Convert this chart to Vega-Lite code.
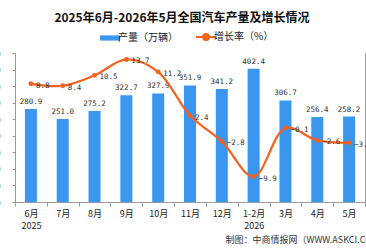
{
  "$schema": "https://vega.github.io/schema/vega-lite/v6.json",
  "width": 350,
  "height": 149,
  "autosize": {"type": "none"},
  "padding": {"left": 15, "top": 53, "right": 1, "bottom": 46},
  "background": "white",
  "title": {
    "text": "2025年6月-2026年5月全国汽车产量及增长情况",
    "font": "Noto Sans CJK SC",
    "fontSize": 12,
    "fontWeight": "bold",
    "color": "#111",
    "anchor": "middle",
    "dx": -8,
    "offset": 7
  },
  "data": {
    "values": [
      {"m": "6月|2025", "v": 280.9, "g": 8.8},
      {"m": "7月", "v": 251.0, "g": 8.4},
      {"m": "8月", "v": 275.2, "g": 10.5},
      {"m": "9月", "v": 322.7, "g": 13.7},
      {"m": "10月", "v": 327.9, "g": 11.2},
      {"m": "11月", "v": 351.9, "g": 2.4},
      {"m": "12月", "v": 341.2, "g": -2.8},
      {"m": "1-2月|2026", "v": 402.4, "g": -9.9},
      {"m": "3月", "v": 306.7, "g": -0.1},
      {"m": "4月", "v": 256.4, "g": -2.6},
      {"m": "5月", "v": 258.2, "g": -3.1}
    ]
  },
  "encoding": {
    "x": {
      "field": "m",
      "type": "nominal",
      "sort": null,
      "scale": {"paddingInner": 0, "paddingOuter": 0},
      "axis": {
        "labelExpr": "split(datum.label, '|')",
        "labelAngle": 0,
        "labelFont": "Noto Sans CJK SC",
        "labelFontSize": 9,
        "labelColor": "#222",
        "labelLineHeight": 12,
        "labelPadding": 3,
        "tickBand": "extent",
        "tickSize": 4,
        "tickColor": "#999",
        "domainColor": "#999",
        "grid": false,
        "title": "制图：中商情报网（WWW.ASKCI.COM）",
        "titleFont": "Noto Sans CJK SC",
        "titleFontSize": 9,
        "titleFontWeight": "normal",
        "titleColor": "#333",
        "titleAlign": "left",
        "titleBaseline": "middle",
        "titleX": 210,
        "titleY": 37
      }
    }
  },
  "layer": [
    {
      "encoding": {
        "y": {
          "field": "v",
          "type": "quantitative",
          "scale": {"domain": [0, 450]},
          "axis": {
            "values": [0, 50, 100, 150, 200, 250, 300, 350, 400, 450],
            "grid": false,
            "title": null,
            "tickSize": 3,
            "labelPadding": 12,
            "labelFontSize": 9,
            "labelColor": "#333",
            "tickColor": "#999",
            "domainColor": "#999"
          }
        }
      },
      "layer": [
        {
          "mark": {"type": "bar", "size": 12},
          "encoding": {
            "color": {
              "datum": "产量（万辆）",
              "scale": {
                "domain": ["产量（万辆）", "增长率（%）"],
                "range": ["#3b96f0", "#f5621e"]
              },
              "legend": {
                "orient": "none",
                "legendX": 90,
                "legendY": -21,
                "direction": "horizontal",
                "title": null,
                "symbolSize": 400,
                "labelFont": "Noto Sans CJK SC",
                "labelFontSize": 10,
                "labelColor": "#222",
                "labelOffset": 3,
                "columnPadding": 14,
                "encode": {
                  "symbols": {
                    "update": {
                      "shape": {"signal": "datum.value === '产量（万辆）' ? 'M-1,-0.26H1V0.26H-1Z' : 'M-1,0H1M0.3,0A0.3,0.3 0 1 1 -0.3,0A0.3,0.3 0 1 1 0.3,0Z'"},
                      "fill": {"signal": "datum.value === '产量（万辆）' ? '#3b96f0' : '#f5621e'"},
                      "stroke": {"signal": "datum.value === '产量（万辆）' ? '#3b96f0' : '#f5621e'"},
                      "strokeWidth": {"signal": "datum.value === '产量（万辆）' ? 0 : 2"},
                      "fillOpacity": {"value": 1},
                      "opacity": {"value": 1}
                    }
                  }
                }
              }
            }
          }
        },
        {
          "mark": {"type": "text", "baseline": "bottom", "dy": -3, "font": "DejaVu Sans Mono", "fontSize": 7.5, "color": "#333"},
          "encoding": {
            "text": {"field": "v", "type": "quantitative", "format": ".1f"}
          }
        }
      ]
    },
    {
      "encoding": {
        "y": {
          "field": "g",
          "type": "quantitative",
          "scale": {"domain": [-15, 15]},
          "axis": {
            "orient": "right",
            "grid": false,
            "title": null,
            "tickSize": 4,
            "labelFontSize": 9,
            "tickColor": "#999",
            "domainColor": "#999"
          }
        }
      },
      "layer": [
        {
          "mark": {"type": "line", "interpolate": "catmull-rom", "strokeWidth": 2.2},
          "encoding": {
            "color": {"datum": "增长率（%）"}
          }
        },
        {
          "mark": {"type": "point", "filled": true, "size": 24, "opacity": 1, "color": "#f5621e"},
          "encoding": {}
        },
        {
          "mark": {"type": "text", "align": "left", "baseline": "middle", "dx": 5, "dy": 2, "font": "DejaVu Sans Mono", "fontSize": 7.5, "color": "#333"},
          "encoding": {
            "text": {"field": "g", "type": "quantitative", "format": ".1f"}
          }
        }
      ]
    }
  ],
  "resolve": {"scale": {"y": "independent"}},
  "config": {
    "view": {"stroke": null},
    "axis": {"labelFont": "Liberation Sans"}
  }
}
